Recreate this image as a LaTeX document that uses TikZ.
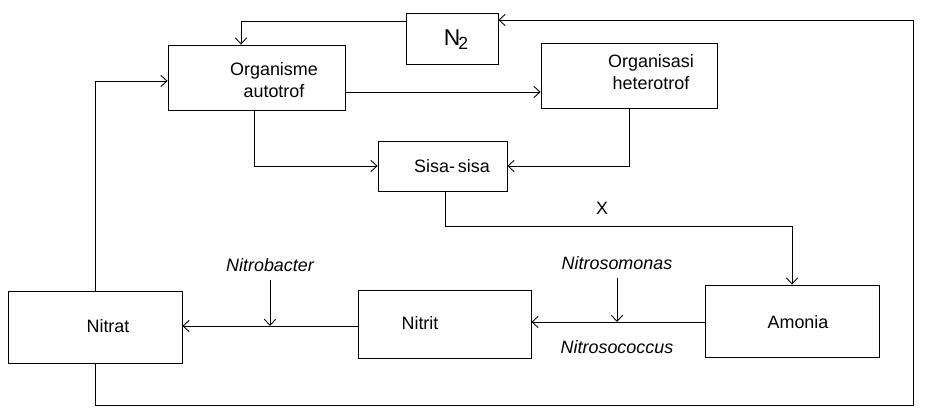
\documentclass[tikz,border=0pt]{standalone}
\usepackage{fontspec}
\setmainfont{Liberation Sans}
\usetikzlibrary{arrows.meta}
\begin{document}
\begin{tikzpicture}[x=0.02cm,y=-0.02cm,
  box/.style={draw,rectangle,inner sep=0pt,line width=0.5pt},
  txt/.style={inner sep=1pt,align=center,font=\fontsize{10.2}{12.5}\selectfont},
  itxt/.style={inner sep=1pt,font=\fontsize{10.2}{12.5}\selectfont\itshape},
  arr/.style={line width=0.5pt,-{Straight Barb[length=3.5pt,width=6.5pt]}},
  ln/.style={line width=0.5pt}]
\useasboundingbox (0,0) rectangle (929,408);
% boxes
\node[box,minimum width=1.84cm,minimum height=1.02cm] (N2) at (452,38.5) {};
\node[box,minimum width=3.54cm,minimum height=1.30cm] (auto) at (256.5,77.5) {};
\node[box,minimum width=3.52cm,minimum height=1.30cm] (het) at (629,75.5) {};
\node[box,minimum width=2.58cm,minimum height=1.00cm] (sisa) at (442.5,166) {};
\node[box,minimum width=3.48cm,minimum height=1.44cm] (amonia) at (792,321) {};
\node[box,minimum width=3.46cm,minimum height=1.36cm] (nitrit) at (444.5,324) {};
\node[box,minimum width=3.48cm,minimum height=1.44cm] (nitrat) at (95,327) {};
% texts
\node[inner sep=1pt,font=\fontsize{13}{15}\selectfont] (tN2) at (456,40) {N\kern-0.08em\raisebox{-0.35ex}{\fontsize{10}{12}\selectfont 2}};
\node[txt] (tauto) at (274,80) {Organisme\\autotrof};
\node[txt] (thet) at (651,72) {Organisasi\\heterotrof};
\node[txt] (tsisa) at (452,166) {Sisa-\,sisa};
\node[txt] (tamonia) at (798,322) {Amonia};
\node[txt] (tnitrit) at (420,323) {Nitrit};
\node[txt] (tnitrat) at (108,326) {Nitrat};
\node[txt] (tX) at (602,208) {X};
\node[itxt] (nb) at (270,265) {Nitrobacter};
\node[itxt] (ns) at (617,263) {Nitrosomonas};
\node[itxt] (nc) at (617,347) {Nitrosococcus};
\coordinate (botR) at (913,405);
% connectors
\draw[arr] ([yshift=0.35cm]N2.west) -| ([xshift=-0.31cm]auto.north);
\draw[arr] (nitrat.south) |- (botR) |- ([yshift=0.37cm]N2.east);
\draw[arr] (nitrat.north) |- ([yshift=-0.07cm]auto.west);
\draw[arr] ([yshift=-0.29cm]auto.east) coordinate (a1) -- (a1 -| het.west);
\draw[arr] ([xshift=-0.05cm]auto.south) |- (sisa.west);
\draw[arr] (het.south) |- (sisa.east);
\draw[arr] ([xshift=0.05cm]sisa.south) -- ++(0,35) -| (amonia.north);
\draw[arr] ([yshift=-0.02cm]amonia.west) coordinate (a2) -- (a2 -| nitrit.east);
\draw[arr] ([yshift=-0.04cm]nitrit.west) coordinate (a3) -- (a3 -| nitrat.east);
\draw[arr] ([yshift=-0.12cm]nb.south) -- (nb.south |- a3);
\draw[arr] ([yshift=-0.12cm]ns.south) -- (ns.south |- a2);
\end{tikzpicture}
\end{document}
